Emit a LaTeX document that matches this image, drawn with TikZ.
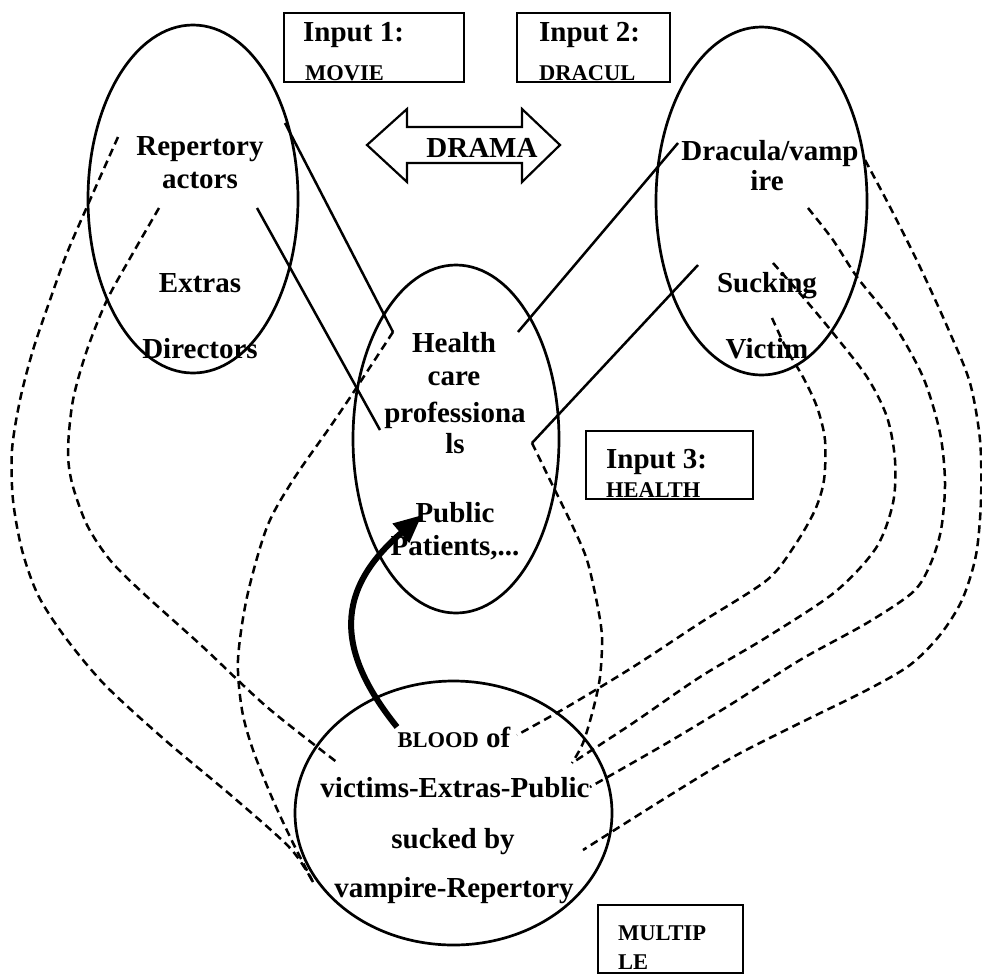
\documentclass[tikz,border=0pt]{standalone}
\usepackage{fontspec}
\setmainfont{Liberation Serif}
\usetikzlibrary{shapes.geometric,arrows.meta}
\tikzset{%
  bubble/.style = {shape=ellipse, draw, line width=2.7pt, inner sep=0pt},%
  frame/.style  = {shape=rectangle, draw, line width=2.2pt, inner sep=0pt},%
  word/.style   = {inner sep=0pt, anchor=base,%
                   font=\fontsize{29}{34}\selectfont\bfseries},%
  caps/.style   = {word, font=\fontsize{22.5}{27}\selectfont\bfseries},%
  tie/.style    = {line width=2.5pt},%
  link/.style   = {line width=2.5pt, dash pattern=on 8pt off 5pt},%
  pump/.style   = {line width=6pt, -{Triangle[length=28pt,width=24pt]}}%
}
\begin{document}
\begin{tikzpicture}[x=1pt,y=-1pt]
	\useasboundingbox (0,0) rectangle (982,975);
	% the four spaces
	\node [bubble, minimum width=210pt, minimum height=348pt] (movie) at (193,199) {};
	\node [bubble, minimum width=211pt, minimum height=348pt] (dracula) at (761.5,201) {};
	\node [bubble, minimum width=206pt, minimum height=348pt] (health) at (456,439) {};
	\node [bubble, minimum width=317pt, minimum height=264pt] (blood) at (453.5,813) {};
	% input boxes
	\node [frame, minimum width=180pt, minimum height=69pt] (in1) at (374,47.5) {};
	\node [frame, minimum width=153pt, minimum height=69pt] (in2) at (593.5,47.5) {};
	\node [frame, minimum width=167pt, minimum height=68pt] (in3) at (669.5,465) {};
	\node [frame, minimum width=145pt, minimum height=68pt] (multi) at (670.5,939) {};
	\node [word, anchor=base west] (in1a) at (303,41) {Input 1:};
	\node [caps, anchor=base west] (in1b) at (305,80) {MOVIE};
	\node [word, anchor=base west] (in2a) at (539,41) {Input 2:};
	\node [caps, anchor=base west] (in2b) at (539,80) {DRACUL};
	\node [word, anchor=base west] (in3a) at (606,468) {Input 3:};
	\node [caps, anchor=base west] (in3b) at (606,497) {HEALTH};
	\node [caps, anchor=base west] (multia) at (618,940) {MULTIP};
	\node [caps, anchor=base west] (multib) at (618,969) {LE};
	% drama arrow
	\draw [line width=2.2pt] (367,145) -- (407,109) -- (407,127) -- (522,127) -- (522,109)
		-- (560,145) -- (522,182) -- (522,163) -- (407,163) -- (407,182) -- cycle;
	\node [word] (drama) at (482,157) {DRAMA};
	% contents
	\node [word] (rep) at (200,155) {Repertory};
	\node [word] (actors) at (200,188) {actors};
	\node [word] (extras) at (200,292) {Extras};
	\node [word] (directors) at (200,358) {Directors};
	\node [word] (vamp) at (770,160) {Dracula/vamp};
	\node [word] (ire) at (767,190) {ire};
	\node [word] (sucking) at (767,292) {Sucking};
	\node [word] (victim) at (767,358) {Victim};
	\node [word] (hc1) at (454,352) {Health};
	\node [word] (hc2) at (454,385) {care};
	\node [word] (hc3) at (455,422) {professiona};
	\node [word] (hc4) at (455,453) {ls};
	\node [word] (public) at (455,522) {Public};
	\node [word] (patients) at (455,555) {Patients,...};
	\node [word] (bl1) at (454,747) {{\fontsize{22.5}{27}\selectfont BLOOD} of};
	\node [word] (bl2) at (455,797) {victims-Extras-Public};
	\node [word] (bl3) at (453,848) {sucked by};
	\node [word] (bl4) at (454,897) {vampire-Repertory};
	% ends of the mappings
	\coordinate (t1a) at (285,123);
	\coordinate (t1b) at (393,332);
	\coordinate (t2a) at (257,208);
	\coordinate (t2b) at (380,430);
	\coordinate (t3a) at (678,143);
	\coordinate (t3b) at (518,332);
	\coordinate (t4a) at (698,265);
	\coordinate (t4b) at (532,443);
	\coordinate (l1a) at (118,137);
	\coordinate (l2a) at (159,208);
	\coordinate (l2b) at (338,763);
	\coordinate (sink) at (313,882);
	\coordinate (r1a) at (865,160);
	\coordinate (r1b) at (583,850);
	\coordinate (r2a) at (808,208);
	\coordinate (r2b) at (590,787);
	\coordinate (r3a) at (773,263);
	\coordinate (meet) at (572,763);
	\coordinate (r4a) at (772,318);
	\coordinate (r4b) at (517,735);
	\draw [tie] (t1a) -- (t1b);
	\draw [tie] (t2a) -- (t2b);
	\draw [tie] (t3a) -- (t3b);
	\draw [tie] (t4a) -- (t4b);
	\draw [link] plot [smooth] coordinates {(l1a) (90,200) (67,253) (50,300) (33,350) (20,400)
		(12,450) (13,500) (22,550) (38,595) (65,637) (105,685) (165,740) (233,797) (290,848) (sink)};
	\draw [link] plot [smooth] coordinates {(l2a) (133,253) (107,300) (87,350) (73,400) (68,450)
		(72,483) (87,525) (110,560) (143,593) (203,647) (267,707) (l2b)};
	\draw [link] plot [smooth] coordinates {(t1b) (355,390) (330,427) (293,480) (267,527) (247,597)
		(238,660) (242,710) (253,750) (273,800) (293,843) (sink)};
	\draw [link] plot [smooth] coordinates {(t4b) (550,480) (573,527) (587,560) (597,603) (602,637)
		(600,677) (593,710) (583,743) (meet)};
	\draw [link] plot [smooth] coordinates {(r1a) (890,207) (920,267) (950,333) (970,383) (980,440)
		(981,500) (976,555) (962,600) (940,635) (910,665) (867,690) (800,723) (733,757) (667,797) (r1b)};
	\draw [link] plot [smooth] coordinates {(r2a) (833,240) (857,277) (893,323) (923,377) (940,433)
		(945,483) (941,530) (930,565) (913,592) (867,623) (800,660) (733,703) (667,743) (r2b)};
	\draw [link] plot [smooth] coordinates {(r3a) (803,297) (833,333) (867,377) (887,417) (895,460)
		(893,503) (876,548) (835,592) (767,637) (700,677) (633,723) (meet)};
	\draw [link] plot [smooth] coordinates {(r4a) (787,350) (803,377) (817,407) (825,440) (824,480)
		(815,510) (795,545) (767,580) (700,623) (633,667) (567,707) (r4b)};
	% the blend feeds back
	\coordinate (suck) at (397,727);
	\coordinate (feed) at (422,515);
	\draw [pump] (suck) .. controls (335,650) and (335,590) .. (feed);
\end{tikzpicture}
\end{document}
